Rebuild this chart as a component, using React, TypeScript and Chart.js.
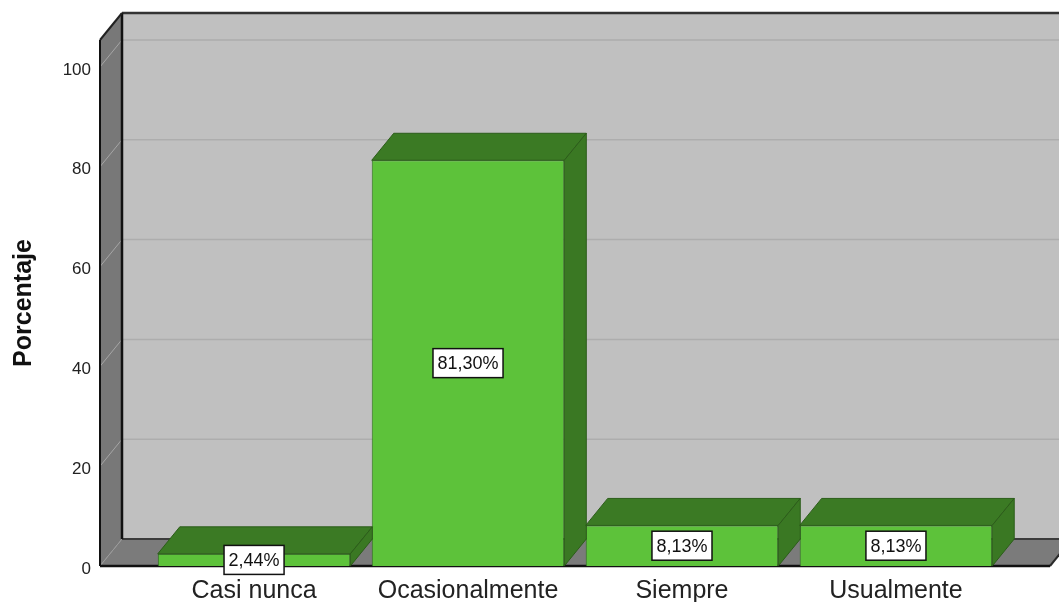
import React, { useEffect, useRef } from "react";
import { Chart, registerables } from "chart.js";

Chart.register(...registerables);

const categories = ["Casi nunca", "Ocasionalmente", "Siempre", "Usualmente"];
const percentages = [2.44, 81.3, 8.13, 8.13];
const yTicks = [0, 20, 40, 60, 80, 100];
const yAxisTitle = "Porcentaje";

const W = 1059;
const H = 602;
const DX = 22;
const DY = -27;
const FONT = "'Liberation Sans', Arial, sans-serif";

function poly(ctx: CanvasRenderingContext2D, pts: number[][], fill?: string, stroke?: string, lw = 1) {
  ctx.beginPath();
  pts.forEach((p, i) => (i === 0 ? ctx.moveTo(p[0], p[1]) : ctx.lineTo(p[0], p[1])));
  ctx.closePath();
  if (fill) {
    ctx.fillStyle = fill;
    ctx.fill();
  }
  if (stroke) {
    ctx.strokeStyle = stroke;
    ctx.lineWidth = lw;
    ctx.stroke();
  }
}

function line(ctx: CanvasRenderingContext2D, x1: number, y1: number, x2: number, y2: number, color: string, lw: number) {
  ctx.beginPath();
  ctx.moveTo(x1, y1);
  ctx.lineTo(x2, y2);
  ctx.strokeStyle = color;
  ctx.lineWidth = lw;
  ctx.stroke();
}

const wallsPlugin = {
  id: "walls3d",
  beforeDraw(chart: any) {
    const ctx: CanvasRenderingContext2D = chart.ctx;
    const { left: L, right: R, top: T, bottom: B } = chart.chartArea;
    const ys = chart.scales.y;
    ctx.save();
    ctx.fillStyle = "#c0c0c0";
    ctx.fillRect(L + DX, T + DY, W - (L + DX), B - T);
    poly(ctx, [[L, T], [L + DX, T + DY], [L + DX, B + DY], [L, B]], "#787878");
    poly(ctx, [[L, B], [R, B], [R + DX, B + DY], [L + DX, B + DY]], "#7b7b7b");
    yTicks.forEach((v) => {
      if (v === 0) return;
      const py = ys.getPixelForValue(v);
      line(ctx, L + DX, py + DY, W, py + DY, "#adadad", 1.5);
      line(ctx, L, py, L + DX, py + DY, "#a6a6a6", 1);
    });
    line(ctx, L, B, L + DX, B + DY, "#9a9a9a", 1);
    line(ctx, L + DX, B + DY, R + DX, B + DY, "#3c3c3c", 2);
    line(ctx, R, B, R + DX, B + DY, "#2a2a2a", 2);
    line(ctx, L + DX, T + DY, W, T + DY, "#333333", 2.5);
    line(ctx, L + DX, T + DY, L + DX, B + DY, "#111111", 2.5);
    line(ctx, L, T, L + DX, T + DY, "#222222", 2);
    line(ctx, L, T, L, B, "#111111", 2);
    line(ctx, L, B, R, B, "#111111", 2.5);
    ctx.restore();
  },
  afterDatasetsDraw(chart: any) {
    const ctx: CanvasRenderingContext2D = chart.ctx;
    const meta = chart.getDatasetMeta(0);
    ctx.save();
    meta.data.forEach((bar: any) => {
      const { x, y, base, width } = bar.getProps(["x", "y", "base", "width"], true);
      const xl = x - width / 2;
      const xr = x + width / 2;
      poly(ctx, [[xl, y], [xl + DX, y + DY], [xr + DX, y + DY], [xr, y]], "#3b7a24", "#2c5d1a", 1);
      poly(ctx, [[xr, y], [xr + DX, y + DY], [xr + DX, base + DY], [xr, base]], "#3a7823", "#2c5d1a", 1);
    });
    ctx.restore();
  },
  afterDraw(chart: any) {
    const ctx: CanvasRenderingContext2D = chart.ctx;
    const meta = chart.getDatasetMeta(0);
    const ys = chart.scales.y;
    ctx.save();
    ctx.font = `18px ${FONT}`;
    ctx.textAlign = "center";
    ctx.textBaseline = "middle";
    meta.data.forEach((bar: any, i: number) => {
      const v = percentages[i];
      const txt = v.toFixed(2).replace(".", ",") + "%";
      const cx = bar.x;
      const cy = ys.getPixelForValue(v / 2);
      const tw = ctx.measureText(txt).width;
      const bw = tw + 9;
      const bh = 29;
      ctx.fillStyle = "#ffffff";
      ctx.fillRect(cx - bw / 2, cy - bh / 2, bw, bh);
      ctx.strokeStyle = "#111111";
      ctx.lineWidth = 1.5;
      ctx.strokeRect(cx - bw / 2, cy - bh / 2, bw, bh);
      ctx.fillStyle = "#111111";
      ctx.fillText(txt, cx, cy + 1);
    });
    ctx.restore();
  },
};

export default function App() {
  const ref = useRef<HTMLCanvasElement | null>(null);

  useEffect(() => {
    if (!ref.current) return;
    Chart.defaults.font.family = FONT;
    const chart = new Chart(ref.current, {
      type: "bar",
      data: {
        datasets: [
          {
            label: yAxisTitle,
            data: percentages.map((v, i) => ({ x: i, y: v })),
            backgroundColor: "#5dc23a",
            borderColor: "#2e6a1d",
            borderWidth: 1,
            barPercentage: 0.9,
            categoryPercentage: 1,
          },
        ],
      },
      options: {
        responsive: false,
        animation: false,
        devicePixelRatio: 1,
        layout: { padding: { left: 0, top: 40, right: 9, bottom: 0 } },
        plugins: {
          legend: { display: false },
          tooltip: { enabled: false },
        },
        scales: {
          x: {
            type: "linear",
            offset: false,
            min: -0.72,
            max: 3.72,
            grid: { display: false, drawTicks: false, offset: false },
            border: { display: false },
            afterBuildTicks: (scale: any) => {
              scale.ticks = categories.map((_, i) => ({ value: i }));
            },
            afterFit: (scale: any) => {
              scale.height = 36;
            },
            ticks: {
              autoSkip: false,
              maxRotation: 0,
              minRotation: 0,
              padding: 10,
              color: "#222222",
              font: { size: 25, family: FONT },
              callback: (val: any) => categories[Math.round(Number(val))] ?? "",
            },
          },
          y: {
            type: "linear",
            min: 0,
            max: 105.4,
            grid: { display: false, drawTicks: false },
            border: { display: false },
            afterBuildTicks: (scale: any) => {
              scale.ticks = yTicks.map((v) => ({ value: v }));
            },
            afterFit: (scale: any) => {
              scale.width = 100;
            },
            ticks: {
              padding: 9,
              labelOffset: 3,
              color: "#222222",
              font: { size: 17, family: FONT },
            },
            title: {
              display: true,
              text: yAxisTitle,
              color: "#111111",
              font: { size: 25, weight: "bold", family: FONT },
              padding: { top: 9, bottom: 0 },
            },
          },
        },
      },
      plugins: [wallsPlugin],
    });
    return () => chart.destroy();
  }, []);

  return (
    <div style={{ position: "absolute", left: 0, top: 0, width: W, height: H, background: "#ffffff" }}>
      <canvas ref={ref} width={W} height={H} style={{ display: "block" }} />
    </div>
  );
}
